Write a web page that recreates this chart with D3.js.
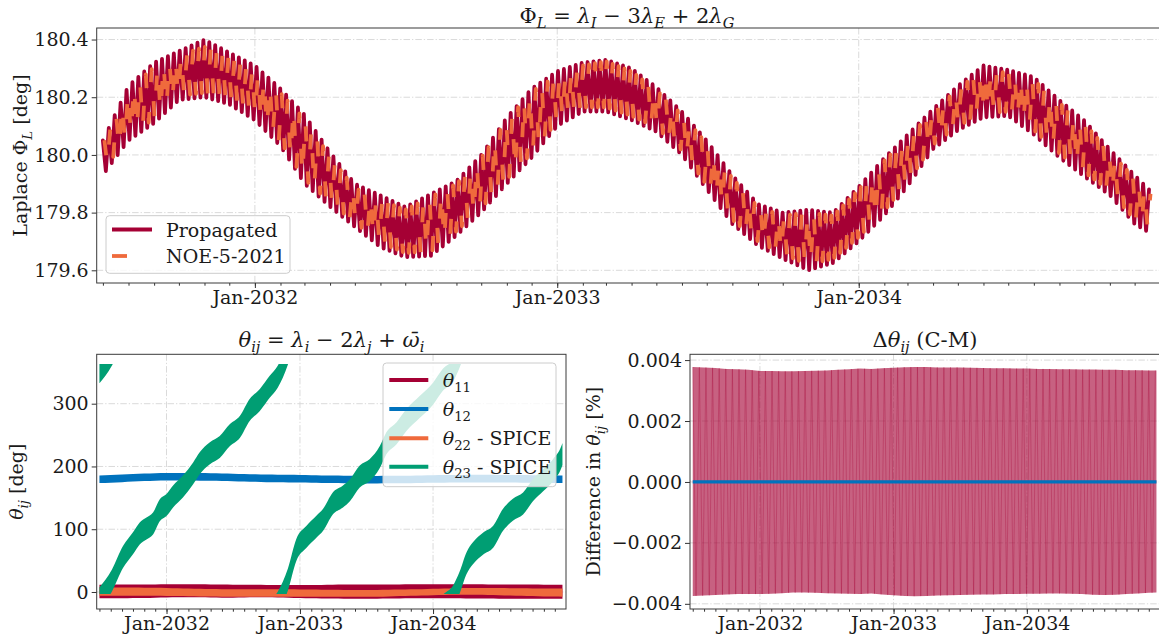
<!DOCTYPE html>
<html>
<head>
<meta charset="utf-8">
<script src="https://cdn.jsdelivr.net/npm/d3@7"></script>
<style>
  body { margin: 0; background: #fff; }
  svg { display: block; font-family: "DejaVu Serif", serif; }
</style>
</head>
<body>
<svg id="fig" width="1159" height="640"></svg>
<script>
// ---------------------------------------------------------------
// Sample dates (first of each month, plus the last epoch)
// ---------------------------------------------------------------
const months = [
  "2031-07-01","2031-08-01","2031-09-01","2031-10-01","2031-11-01","2031-12-01",
  "2032-01-01","2032-02-01","2032-03-01","2032-04-01","2032-05-01","2032-06-01",
  "2032-07-01","2032-08-01","2032-09-01","2032-10-01","2032-11-01","2032-12-01",
  "2033-01-01","2033-02-01","2033-03-01","2033-04-01","2033-05-01","2033-06-01",
  "2033-07-01","2033-08-01","2033-09-01","2033-10-01","2033-11-01","2033-12-01",
  "2034-01-01","2034-02-01","2034-03-01","2034-04-01","2034-05-01","2034-06-01",
  "2034-07-01","2034-08-01","2034-09-01","2034-10-01","2034-11-01","2034-12-01",
  "2034-12-22"
];

// Laplace angle: upper / lower extent of the short-period spikes [deg]
const propHi = [180.05,180.24,180.32,180.36,180.40,180.355,
  180.31,180.23,180.14,180.01,179.90,179.86,179.82,179.865,179.91,180.00,180.13,180.23,
  180.29,180.32,180.33,180.30,180.235,180.15,180.05,179.93,179.83,179.80,179.81,179.80,
  179.89,179.99,180.07,180.16,180.24,180.31,180.295,180.27,180.19,180.12,180.02,179.93,
  179.87];
const propLo = [179.93,180.05,180.11,180.19,180.20,180.175,
  180.12,180.03,179.90,179.82,179.75,179.68,179.645,179.65,179.72,179.80,179.90,179.99,
  180.10,180.15,180.15,180.12,180.08,180.00,179.88,179.76,179.685,179.64,179.60,179.625,
  179.70,179.79,179.89,180.02,180.085,180.13,180.135,180.07,179.99,179.925,179.86,179.76,
  179.725];
const noeHi = [180.04,180.225,180.305,180.345,180.375,180.345,
  180.295,180.215,180.125,179.995,179.885,179.845,179.81,179.855,179.90,179.99,180.12,180.22,
  180.275,180.31,180.325,180.29,180.225,180.14,180.04,179.92,179.82,179.79,179.80,179.79,
  179.88,179.98,180.06,180.15,180.23,180.295,180.285,180.26,180.18,180.11,180.01,179.92,
  179.86];
const noeLo = [179.945,180.065,180.125,180.205,180.215,180.19,
  180.135,180.045,179.915,179.835,179.765,179.695,179.66,179.665,179.735,179.815,179.915,180.005,
  180.115,180.165,180.165,180.135,180.095,180.015,179.895,179.775,179.70,179.655,179.62,179.64,
  179.715,179.805,179.905,180.035,180.10,180.145,180.15,180.085,180.005,179.94,179.875,179.775,
  179.74];
const spikeDays = 7.155;   // spacing of the short-period spikes (Ganymede orbit)

// Resonant angles theta_ij [deg]
const theta11Hi = [11.5,11.5,11.8,11.8,12,12,
  12.2,12.3,12.3,12.2,12,11.8,11.5,11.5,11.5,11.2,11,11,
  11,11,11.2,11.5,11.8,12,12,12,12,12,12.2,12.3,
  12.3,12.3,12.3,12.2,12.2,12,12,11.8,11.8,11.8,11.5,11.5,
  11.5];
const theta11Lo = [-10,-10,-10,-9.5,-9.5,-9,
  -8.8,-8.5,-8.5,-8.5,-8.8,-9,-9,-8.8,-8.5,-8.5,-8.8,-9,
  -9.5,-10,-10.3,-10.5,-10.7,-10.7,-10.7,-10.7,-10.5,-10.3,-10,-10,
  -10,-10,-10,-10.3,-10.5,-10.5,-10.7,-10.7,-10.7,-10.7,-10.7,-10.7,
  -10.7];
const theta12Mid = [179.5,180.2,181,182,182.8,183.3,
  183.5,183.6,183.6,183.4,183.1,182.8,182.5,182,181.5,181,180.8,180.6,
  180.4,180,179.7,179.5,179.3,179.1,179,179,179.1,179.2,179.4,179.7,
  180,180.2,180.4,180.5,180.6,180.6,180.5,180.4,180.2,180,179.8,179.6,
  179.5];
const theta12Half = 6;
const theta22Hi = [7,7,7,7,6.8,6.8,
  6.5,6,5.5,5,4.6,4.5,4.5,4.5,4.5,4.5,4.5,4.3,
  4,3.8,3.6,3.4,3.2,3.2,3.2,3.2,3.5,3.8,4.2,4.5,
  5,5.5,6,6.3,6.5,6.5,6.3,6,5.9,5.7,5.5,5.5,
  5.5];
const theta22Lo = [-5.9,-5.9,-5.9,-6,-6,-6,
  -6.2,-6.5,-6.8,-7,-7.2,-7.4,-7.4,-7.4,-7.4,-7.4,-7.4,-7.4,
  -7.4,-7.4,-7.4,-7.4,-7.4,-7.4,-7.4,-7.4,-7,-6.5,-6,-5.5,
  -5,-4.6,-4.4,-4.4,-4.4,-4.6,-5,-5.5,-6,-6.5,-7,-7.2,
  -7.4];
// theta_23 keeps circulating; values are unwrapped (wrapped into 0-360 when drawn)
const theta23Dates = [
  "2031-07-01","2031-08-04","2031-09-04","2031-10-01","2031-10-20","2031-11-07","2031-11-25","2031-12-14",
  "2032-01-01","2032-01-19","2032-02-15","2032-03-14","2032-04-01","2032-04-29","2032-05-26","2032-06-23",
  "2032-07-20","2032-08-16","2032-09-13","2032-10-10","2032-11-01","2032-11-29","2032-12-22",
  "2033-01-19","2033-02-15","2033-03-05","2033-04-01","2033-04-29","2033-05-18","2033-06-14","2033-07-11",
  "2033-08-08","2033-08-26","2033-09-23","2033-10-20","2033-11-26",
  "2034-01-01","2034-01-28","2034-02-25","2034-03-15","2034-04-03","2034-04-21","2034-05-18","2034-06-15",
  "2034-07-12","2034-08-08","2034-09-05","2034-10-02","2034-10-30","2034-11-26","2034-12-19","2034-12-22"
];
const theta23Mid = [
  -10,18,56,77.5,93.5,101,109,130.6,
  138.5,152,168,189,205,221,231,250,
  263,290,306,327,343,380,427,
  448,464,474.6,501,512,522,544,554,
  575,597,613,634,655,
  676,698,713,735,766,782,797,808,
  835,851,861,882,898,914,935,940
];
const theta23Half = 17.5;

// Propagated minus SPICE difference [%]
const diffHi = [0.00377,0.00376,0.00374,0.00371,0.00370,0.00368,
  0.003645,0.00364,0.00363,0.00363,0.00364,0.00365,0.00366,0.00368,0.00370,0.00372,0.00371,0.00373,
  0.00375,0.003767,0.00377,0.00377,0.00376,0.00376,0.00376,0.00375,0.00374,0.00373,0.00373,0.00372,
  0.00372,0.00371,0.00371,0.00370,0.00370,0.00369,0.00369,0.00368,0.00368,0.00367,0.00367,0.00366,
  0.00366];
const diffLo = [-0.00374,-0.00373,-0.00371,-0.00369,-0.00368,-0.00368,
  -0.00368,-0.00367,-0.00365,-0.00363,-0.00363,-0.00364,-0.00365,-0.00366,-0.00367,-0.00368,-0.00366,-0.00369,
  -0.00372,-0.00374,-0.00375,-0.00374,-0.00373,-0.00372,-0.00371,-0.00370,-0.00369,-0.00369,-0.00368,-0.00368,
  -0.00367,-0.00367,-0.00366,-0.00366,-0.00367,-0.00368,-0.00370,-0.00371,-0.00370,-0.00368,-0.00366,-0.00364,
  -0.00363];
const diffStripeDays = 18.1;
const dTheta12Dates = ["2031-07-01", "2034-12-22"];
const dTheta12 = [0, 0];

// Axis ticks
const yearTicks = ["2032-01-01", "2033-01-01", "2034-01-01"];
const laplaceTicks = [179.6, 179.8, 180.0, 180.2, 180.4];
const thetaTicks = [0, 100, 200, 300];
const diffTicks = [-0.004, -0.002, 0, 0.002, 0.004];

// ---------------------------------------------------------------
const C = { red: "#a50034", orange: "#ef6a3c", blue: "#0072bd", green: "#009e73" };
const FS = 19;       // tick / label / legend text
const TS = 21;       // panel titles
const svg = d3.select("#fig");
const parse = d3.utcParse("%Y-%m-%d");
const dates = months.map(parse);
const t0 = new Date(Date.UTC(2031, 5, 23, 12));
const t1 = new Date(Date.UTC(2034, 11, 31, 17));
const yearDates = yearTicks.map(parse);
const monthTicks = d3.utcMonth.range(new Date(Date.UTC(2031, 6, 1)), new Date(Date.UTC(2035, 0, 1)));

const panels = {
  top: { x0: 96.7, x1: 1160, y0: 28, y1: 283, dom: [179.556, 180.440], ticks: laplaceTicks, fmt: d3.format(".1f") },
  bl:  { x0: 96.7, x1: 566,  y0: 354.3, y1: 609, dom: [-27.1, 378.7], ticks: thetaTicks, fmt: d3.format("d") },
  br:  { x0: 690,  x1: 1160, y0: 354.3, y1: 609, dom: [-0.00417, 0.00419], ticks: diffTicks, fmt: d3.format(".3f") }
};

// text with italic pieces and subscripts
function rich(g, x, y, parts, opts = {}) {
  const size = opts.size || FS;
  const t = g.append("text").attr("x", x).attr("y", y)
    .attr("text-anchor", opts.anchor || "start")
    .attr("font-size", size).attr("fill", "#1a1a1a");
  if (opts.rotate) t.attr("transform", `rotate(${opts.rotate},${x},${y})`);
  let cur = 0;
  parts.forEach(([s, st]) => {
    const sp = t.append("tspan").text(s);
    if (st.includes("i")) sp.attr("font-style", "italic");
    const sub = st.includes("s");
    if (sub) sp.attr("font-size", size * 0.7);
    const target = sub ? size * 0.25 : 0;
    if (target !== cur) sp.attr("dy", target - cur);
    cur = target;
  });
  return t;
}

function setupPanel(key) {
  const p = panels[key];
  const g = svg.append("g");
  const x = d3.scaleUtc().domain([t0, t1]).range([p.x0, p.x1]);
  const y = d3.scaleLinear().domain(p.dom).range([p.y1, p.y0]);
  const clipId = "clip-" + key;
  svg.append("clipPath").attr("id", clipId).append("rect")
    .attr("x", p.x0).attr("y", p.y0).attr("width", p.x1 - p.x0).attr("height", p.y1 - p.y0);

  const grid = g.append("g").attr("stroke", "#dadada").attr("stroke-width", 1)
    .attr("stroke-dasharray", "6.5,2,1.3,2");
  yearDates.forEach(d => grid.append("line").attr("x1", x(d)).attr("x2", x(d)).attr("y1", p.y0).attr("y2", p.y1));
  p.ticks.forEach(v => grid.append("line").attr("x1", p.x0).attr("x2", p.x1).attr("y1", y(v)).attr("y2", y(v)));

  const data = g.append("g").attr("clip-path", `url(#${clipId})`);
  return { g, data, x, y, p };
}

function drawAxes(P) {
  const { g, x, y, p } = P;
  const minor = g.append("g").attr("transform", `translate(0,${p.y1})`)
    .call(d3.axisBottom(x).tickValues(monthTicks).tickSize(2.7).tickFormat(""));
  const major = g.append("g").attr("transform", `translate(0,${p.y1})`)
    .call(d3.axisBottom(x).tickValues(yearDates).tickSize(5).tickPadding(2.5).tickFormat(d3.utcFormat("%b-%Y")));
  const left = g.append("g").attr("transform", `translate(${p.x0},0)`)
    .call(d3.axisLeft(y).tickValues(p.ticks).tickSize(5).tickPadding(3).tickFormat(p.fmt));
  [minor, major, left].forEach(a => {
    a.select(".domain").remove();
    a.selectAll("line").attr("stroke", "#333").attr("stroke-width", 1);
    a.selectAll("text").attr("font-size", FS).attr("font-family", "DejaVu Serif").attr("fill", "#1a1a1a");
  });
  g.append("rect").attr("x", p.x0).attr("y", p.y0).attr("width", p.x1 - p.x0).attr("height", p.y1 - p.y0)
    .attr("fill", "none").attr("stroke", "#3a3a3a").attr("stroke-width", 1);
}

// zig-zag between the upper and lower spike extents
function zigzag(hiArr, loArr, periodDays, phaseDays) {
  const hiAt = d3.scaleUtc().domain(dates).range(hiArr);
  const loAt = d3.scaleUtc().domain(dates).range(loArr);
  const start = +dates[0], end = +dates[dates.length - 1];
  const step = periodDays * 864e5 / 2;
  const pts = [];
  let k = 0;
  for (let t = start + phaseDays * 864e5; t <= end; t += step, k++) {
    const d = new Date(t);
    pts.push([d, k % 2 === 0 ? hiAt(d) : loAt(d)]);
  }
  return pts;
}

function legendBox(g, x, y, w, h) {
  g.append("rect").attr("x", x).attr("y", y).attr("width", w).attr("height", h)
    .attr("rx", 3.5).attr("fill", "#fff").attr("fill-opacity", 0.8)
    .attr("stroke", "#cccccc").attr("stroke-width", 1);
}

// ---------------- top: Laplace resonance ----------------
{
  const P = setupPanel("top");
  const { data, x, y, g } = P;
  const line = d3.line().x(d => x(d[0])).y(d => y(d[1]));
  data.append("path").attr("d", line(zigzag(propHi, propLo, spikeDays, 0)))
    .attr("fill", "none").attr("stroke", C.red).attr("stroke-width", 3.8)
    .attr("stroke-linejoin", "round").attr("stroke-linecap", "round");
  data.append("path").attr("d", line(zigzag(noeHi, noeLo, spikeDays, spikeDays / 4)))
    .attr("fill", "none").attr("stroke", C.orange).attr("stroke-width", 3.8)
    .attr("stroke-dasharray", "15,30").attr("stroke-linejoin", "round");
  drawAxes(P);

  legendBox(g, 106, 215.7, 184, 57.6);
  g.append("line").attr("x1", 112).attr("x2", 152).attr("y1", 229.5).attr("y2", 229.5)
    .attr("stroke", C.red).attr("stroke-width", 3.8);
  g.append("line").attr("x1", 112).attr("x2", 152).attr("y1", 256).attr("y2", 256)
    .attr("stroke", C.orange).attr("stroke-width", 3.8).attr("stroke-dasharray", "15,30");
  rich(g, 166, 236.5, [["Propagated", ""]]);
  rich(g, 166, 262.7, [["NOE-5-2021", ""]]);

  rich(svg, 627, 23, [["Φ",""],["L","is"],[" = ",""],["λ","i"],["I","is"],[" − 3",""],["λ","i"],["E","is"],[" + 2",""],["λ","i"],["G","is"]],
    { anchor: "middle", size: TS });
  rich(svg, 27, 155.5, [["Laplace ",""],["Φ",""],["L","is"],[" [deg]",""]], { anchor: "middle", rotate: -90 });
}

// ---------------- bottom left: resonant angles ----------------
{
  const P = setupPanel("bl");
  const { data, x, y, g, p } = P;
  const rows = dates.map((d, i) => ({ d, i }));
  const band = (rs, hi, lo) => d3.area().x(r => x(r.d)).y0(r => y(lo(r.i))).y1(r => y(hi(r.i))).curve(d3.curveMonotoneX)(rs);

  data.append("path").attr("d", band(rows, i => theta11Hi[i], i => theta11Lo[i])).attr("fill", C.red);
  data.append("path").attr("d", band(rows, i => theta12Mid[i] + theta12Half, i => theta12Mid[i] - theta12Half)).attr("fill", C.blue);
  data.append("path").attr("d", band(rows, i => theta22Hi[i], i => theta22Lo[i])).attr("fill", C.orange);

  // theta_23 wrapped into [0, 360]
  const rows23 = theta23Dates.map((s, i) => ({ d: parse(s), i }));
  const wrapId = "clip-wrap";
  svg.append("clipPath").attr("id", wrapId).append("rect")
    .attr("x", p.x0).attr("y", y(360) - 2).attr("width", p.x1 - p.x0).attr("height", y(0) - y(360) + 4);
  const wrapG = data.append("g").attr("clip-path", `url(#${wrapId})`);
  [-1, 0, 1, 2].forEach(k => {
    wrapG.append("path")
      .attr("d", band(rows23, i => theta23Mid[i] - 360 * k + theta23Half, i => theta23Mid[i] - 360 * k - theta23Half))
      .attr("fill", C.green);
  });
  drawAxes(P);

  legendBox(g, 383, 363, 173, 123.7);
  const entries = [
    [C.red,    [["θ","i"],["11","s"]]],
    [C.blue,   [["θ","i"],["12","s"]]],
    [C.orange, [["θ","i"],["22","s"],[" - SPICE",""]]],
    [C.green,  [["θ","i"],["23","s"],[" - SPICE",""]]]
  ];
  const rowY = [380, 409, 438.3, 466.7];
  entries.forEach(([col, parts], i) => {
    g.append("line").attr("x1", 389.3).attr("x2", 428.3).attr("y1", rowY[i]).attr("y2", rowY[i])
      .attr("stroke", col).attr("stroke-width", 4);
    rich(g, 442.7, rowY[i] + 7, parts);
  });

  rich(svg, 331.4, 347, [["θ","i"],["ij","is"],[" = ",""],["λ","i"],["i","is"],[" − 2",""],["λ","i"],["j","is"],[" + ",""],["ω̄","i"],["i","is"]],
    { anchor: "middle", size: TS });
  rich(svg, 23, 481.7, [["θ","i"],["ij","is"],[" [deg]",""]], { anchor: "middle", rotate: -90 });
}

// ---------------- bottom right: difference ----------------
{
  const P = setupPanel("br");
  const { data, x, y } = P;
  const rows = dates.map((d, i) => ({ d, i }));
  data.append("path")
    .attr("d", d3.area().x(r => x(r.d)).y0(r => y(diffLo[r.i])).y1(r => y(diffHi[r.i]))(rows))
    .attr("fill", C.red).attr("fill-opacity", 0.62);
  const line = d3.line().x(d => x(d[0])).y(d => y(d[1]));
  data.append("path").attr("d", line(zigzag(diffHi, diffLo, diffStripeDays, 0)))
    .attr("fill", "none").attr("stroke", C.red).attr("stroke-opacity", 0.3).attr("stroke-width", 1);
  data.append("path")
    .attr("d", line(dTheta12Dates.map((s, i) => [parse(s), dTheta12[i]])))
    .attr("fill", "none").attr("stroke", C.blue).attr("stroke-width", 3.2);
  drawAxes(P);

  rich(svg, 925, 347, [["Δ",""],["θ","i"],["ij","is"],[" (C-M)",""]], { anchor: "middle", size: TS });
  rich(svg, 600, 481.7, [["Difference in ",""],["θ","i"],["ij","is"],[" [%]",""]], { anchor: "middle", rotate: -90 });
}
</script>
</body>
</html>
